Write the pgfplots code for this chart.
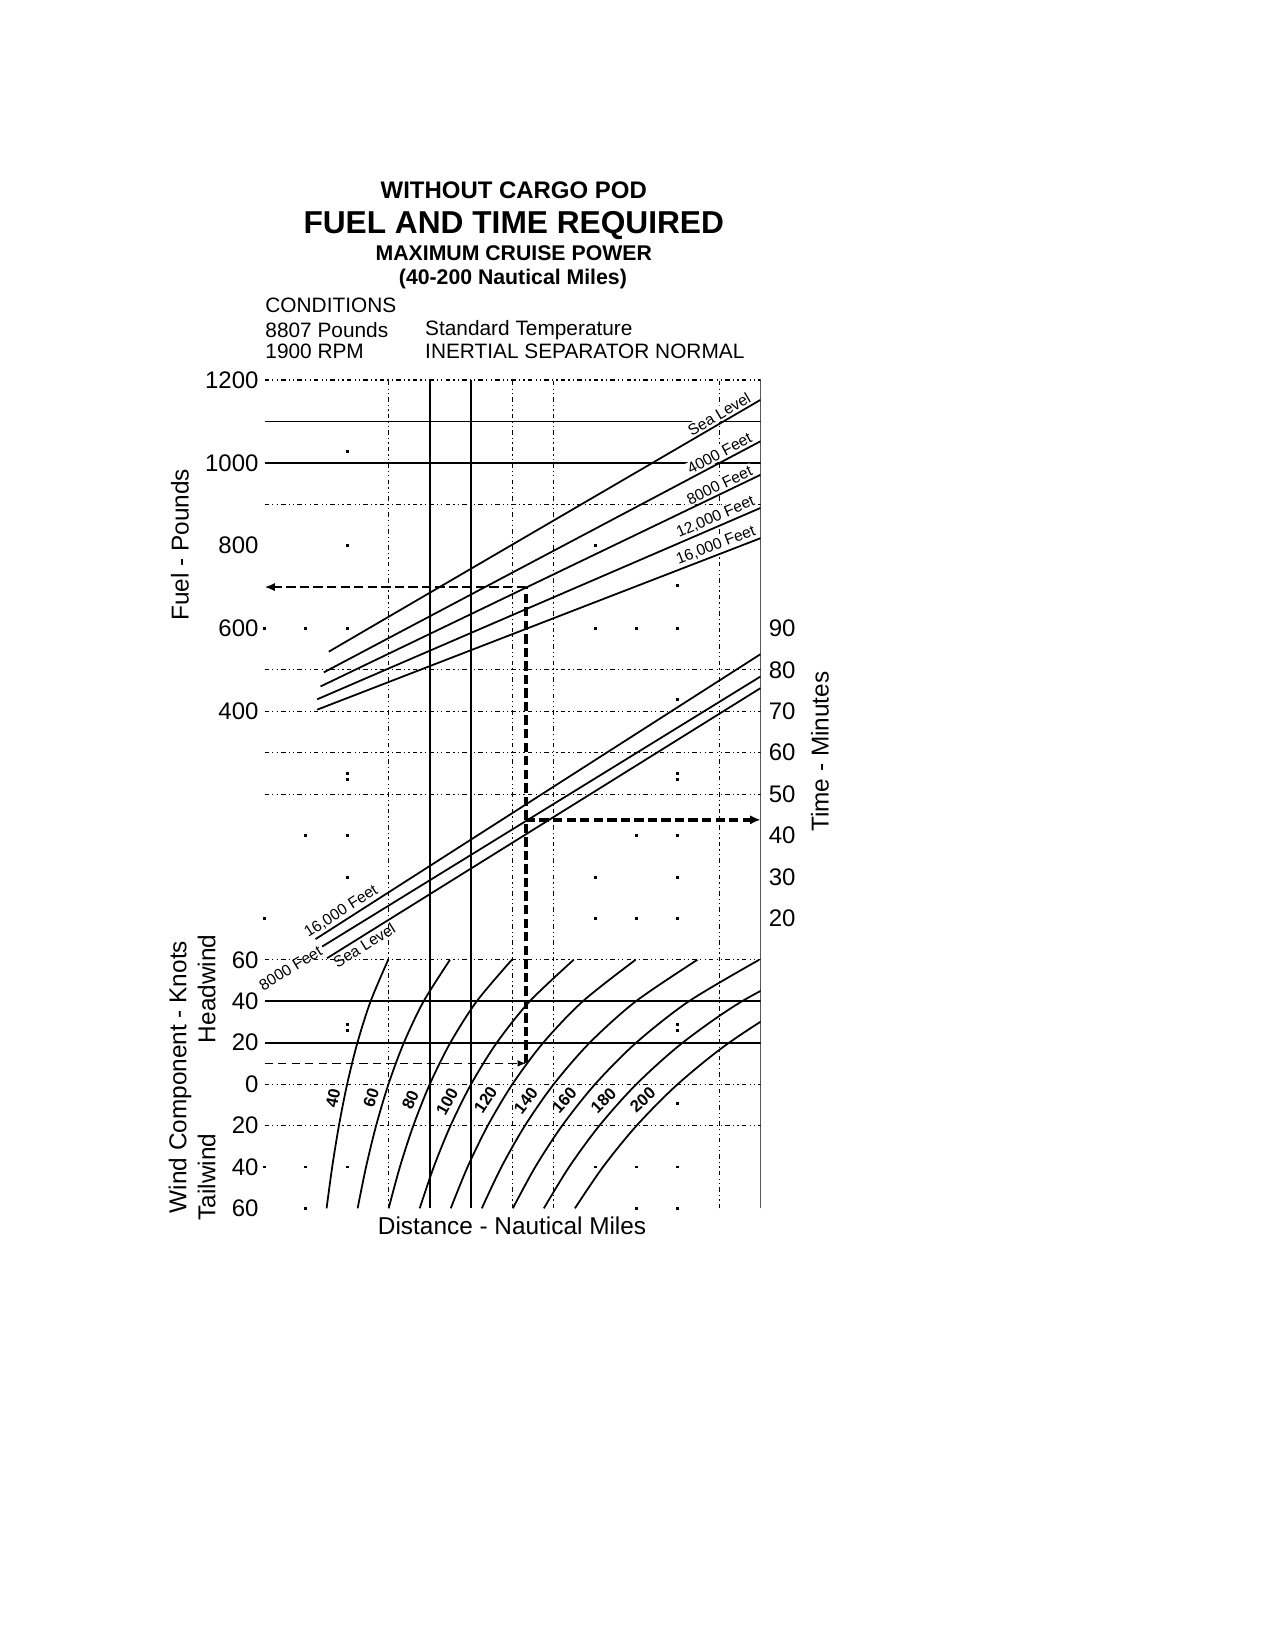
\documentclass[border=0pt]{standalone}
\usepackage{fontspec}
\setmainfont{Liberation Sans}
\usepackage{pgfplots}
\pgfplotsset{compat=1.18}
\usetikzlibrary{arrows.meta}

\tikzset{
  gdot/.style={line width=0.55pt, dash pattern=on 2.2pt off 1.5pt on 0.6pt off 1.5pt on 0.6pt off 1.5pt},
  gsol/.style={line width=0.85pt},
  curve/.style={line width=0.85pt},
  lbl/.style={font=\fontsize{7.5}{8}\selectfont, inner sep=0.6pt},
  tl/.style={anchor=west, inner sep=0pt, xshift=3.8pt, font=\fontsize{11.5}{12}\selectfont},
  wl/.style={font=\bfseries\fontsize{8}{9}\selectfont, inner sep=0pt},
  cond/.style={font=\fontsize{10}{11}\selectfont, anchor=west, inner sep=0pt},
}

\begin{document}
\begin{tikzpicture}
\useasboundingbox (0,0) rectangle (612pt,792pt);
\fill[white] (0,0) rectangle (612pt,792pt);

% titles
\node[font=\bfseries\fontsize{11.5}{13}\selectfont] at (246.6pt,700.6pt) {WITHOUT CARGO POD};
\node[font=\bfseries\fontsize{15.2}{17}\selectfont] at (246.6pt,683.8pt) {FUEL AND TIME REQUIRED};
\node[font=\bfseries\fontsize{10.2}{11}\selectfont] at (246.6pt,670.3pt) {MAXIMUM CRUISE POWER};
\node[font=\bfseries\fontsize{10.2}{11}\selectfont] at (246.2pt,658.2pt) {(40-200 Nautical Miles)};
\node[cond] at (127.2pt,645.6pt) {CONDITIONS};
\node[cond] at (127.2pt,633.6pt) {8807 Pounds};
\node[cond] at (203.9pt,633.6pt) {Standard Temperature};
\node[cond] at (127.2pt,623.2pt) {1900 RPM};
\node[cond] at (203.9pt,623.2pt) {INERTIAL SEPARATOR NORMAL};

% axis titles
\node[font=\fontsize{11.7}{13}\selectfont, rotate=90] at (86.4pt,530.4pt) {Fuel - Pounds};
\node[font=\fontsize{11.7}{13}\selectfont, rotate=90] at (86.4pt,275.0pt) {Wind Component - Knots};
\node[font=\fontsize{11.7}{13}\selectfont, rotate=90] at (99.2pt,317.3pt) {Headwind};
\node[font=\fontsize{11.7}{13}\selectfont, rotate=90] at (99.2pt,227.0pt) {Tailwind};
\node[font=\fontsize{11.7}{13}\selectfont, rotate=90] at (393.6pt,431.2pt) {Time - Minutes};
\node[font=\fontsize{11.7}{13}\selectfont] at (245.8pt,203.5pt) {Distance - Nautical Miles};

\begin{axis}[
  at={(126.96pt,212.0pt)}, anchor=south west,
  scale only axis, width=238.08pt, height=397.6pt,
  xmin=0, xmax=240, ymin=0, ymax=20,
  axis line style={draw=none},
  xtick=\empty,
  ytick={0,1,2,3,4,5,6,12,14,16,18,20},
  yticklabels={60,40,20,0,20,40,60,400,600,800,1000,1200},
  major tick length=0pt,
  tick style={draw=none},
  yticklabel style={font=\fontsize{11.5}{12}\selectfont, inner sep=0pt, xshift=-2.7pt},
  clip mode=individual,
]
% ---- grid lines ----
\addplot[gdot] coordinates {(0,20) (240,20)};
\addplot[gsol] coordinates {(0,19) (240,19)};
\addplot[gsol] coordinates {(0,18) (240,18)};
\addplot[gdot] coordinates {(0,17) (240,17)};
\addplot[gdot] coordinates {(0,13) (240,13)};
\addplot[gdot] coordinates {(0,12) (240,12)};
\addplot[gdot] coordinates {(0,11) (240,11)};
\addplot[gdot] coordinates {(0,10) (240,10)};
\addplot[gdot] coordinates {(0,6) (240,6)};
\addplot[gsol] coordinates {(0,5) (240,5)};
\addplot[gsol] coordinates {(0,4) (240,4)};
\addplot[gdot] coordinates {(0,3) (240,3)};
\addplot[gdot] coordinates {(0,2) (240,2)};
\addplot[gdot] coordinates {(60,0) (60,20)};
\addplot[gdot] coordinates {(120,0) (120,20)};
\addplot[gdot] coordinates {(140,0) (140,20)};
\addplot[gdot] coordinates {(220,0) (220,20)};
\addplot[line width=0.95pt] coordinates {(80,0) (80,20)};
\addplot[line width=0.95pt] coordinates {(100,0) (100,20)};
\addplot[line width=0.95pt] coordinates {(240,0) (240,20)};
% remnant grid dots
\addplot[only marks, mark=square*, mark size=0.45pt] coordinates {
 (0,14) (20,14) (40,14) (160,14) (180,14) (200,14)
 (40,16) (160,16) (40,18.28) (200,15.05) (200,12.28)
 (20,9) (40,9) (180,9) (200,9)
 (40,8) (160,8) (200,8)
 (0,7) (160,7) (180,7) (200,7)
 (0,1) (20,1) (40,1) (160,1) (180,1) (200,1)
 (20,0) (180,0) (200,0) (200,2.54)
 (40,10.35) (40,10.5) (200,10.35) (200,10.5)
 (40,4.3) (40,4.45) (200,4.3) (200,4.45)
};

% ---- fuel lines ----
\addplot[curve] coordinates {(31.1,13.44) (240,19.52)}
  node[pos=0.914, sloped, above, lbl, fill=white, yshift=0.4pt] {Sea Level};
\addplot[curve] coordinates {(28.7,12.94) (240,18.52)}
  node[pos=0.915, sloped, above, lbl, fill=white, yshift=0.4pt] {4000 Feet};
\addplot[curve] coordinates {(27.1,12.60) (240,17.71)}
  node[pos=0.915, sloped, above, lbl, fill=white, yshift=0.4pt] {8000 Feet};
\addplot[curve] coordinates {(25.5,12.29) (240,16.91)}
  node[pos=0.907, sloped, above, lbl, fill=white, yshift=0.4pt] {12,000 Feet};
\addplot[curve] coordinates {(25.5,12.04) (240,16.18)}
  node[pos=0.907, sloped, above, lbl, fill=white, yshift=0.4pt] {16,000 Feet};

% ---- time lines ----
\addplot[curve] coordinates {(24.7,6.50) (240,13.38)}
  node[pos=0.069, sloped, above, lbl, yshift=0.4pt] {16,000 Feet};
\addplot[curve] coordinates {(27.9,6.32) (240,12.84)};
\addplot[curve] coordinates {(30.3,6.04) (240,12.56)}
  node[pos=0.075, sloped, below, lbl, yshift=-0.4pt] {Sea Level};
\node[lbl, rotate=31.4] at (axis cs:12.6,5.80) {8000 Feet};

% ---- wind curves ----
\addplot[curve, smooth] coordinates {(30.04,0) (32.76,1) (36.02,2) (40,3) (44.97,4) (51.35,5) (59.84,6)};
\addplot[curve, smooth] coordinates {(45.06,0) (49.14,1) (54.03,2) (60,3) (67.45,4) (77.02,5) (89.75,6)};
\addplot[curve, smooth] coordinates {(60.08,0) (65.52,1) (72.04,2) (80,3) (89.94,4) (102.70,5) (119.67,6)};
\addplot[curve, smooth] coordinates {(75.10,0) (81.90,1) (90.05,2) (100,3) (112.42,4) (128.37,5) (149.59,6)};
\addplot[curve, smooth] coordinates {(90.12,0) (98.28,1) (108.06,2) (120,3) (134.90,4) (154.04,5) (179.51,6)};
\addplot[curve, smooth] coordinates {(105.14,0) (114.66,1) (126.07,2) (140,3) (157.39,4) (179.72,5) (209.43,6)};
\addplot[curve, smooth] coordinates {(120.16,0) (131.04,1) (144.08,2) (160,3) (179.87,4) (205.39,5) (239.34,6)};
\addplot[curve, smooth] coordinates {(135.18,0) (147.42,1) (162.09,2) (180,3) (202.36,4) (231.07,5) (269.26,6)};
\addplot[curve, smooth] coordinates {(150.20,0) (163.80,1) (180.10,2) (200,3) (224.84,4) (256.74,5) (299.17,6)};

\node[wl, rotate=77.5] at (axis cs:33.2,2.66) {40};
\node[wl, rotate=71.7] at (axis cs:51.6,2.66) {60};
\node[wl, rotate=66.2] at (axis cs:70.6,2.62) {80};
\node[wl, rotate=61.1] at (axis cs:88.4,2.58) {100};
\node[wl, rotate=56.5] at (axis cs:107,2.62) {120};
\node[wl, rotate=52.3] at (axis cs:126.4,2.6) {140};
\node[wl, rotate=48.5] at (axis cs:145,2.62) {160};
\node[wl, rotate=45.2] at (axis cs:164,2.6) {180};
\node[wl, rotate=42.2] at (axis cs:183,2.62) {200};

% ---- example arrows ----
\addplot[line width=0.6pt, dash pattern=on 4pt off 2.5pt, -{Latex[length=4pt,width=3.2pt]}] coordinates {(0,3.5) (126.5,3.5)};
\addplot[line width=1.6pt, dash pattern=on 4.5pt off 2pt] coordinates {(126.5,3.5) (126.5,15)};
\addplot[line width=1.3pt, dash pattern=on 4.5pt off 2pt, -{Latex[length=5pt,width=4pt]}] coordinates {(126.5,15) (0,15)};
\addplot[line width=1.8pt, dash pattern=on 4.5pt off 2pt, -{Latex[length=5pt,width=4.5pt]}] coordinates {(126.5,9.38) (240,9.38)};

% ---- right axis labels ----
\node[tl] at (axis cs:240,7) {20};
\node[tl] at (axis cs:240,8) {30};
\node[tl] at (axis cs:240,9) {40};
\node[tl] at (axis cs:240,10) {50};
\node[tl] at (axis cs:240,11) {60};
\node[tl] at (axis cs:240,12) {70};
\node[tl] at (axis cs:240,13) {80};
\node[tl] at (axis cs:240,14) {90};
\end{axis}
\end{tikzpicture}
\end{document}
